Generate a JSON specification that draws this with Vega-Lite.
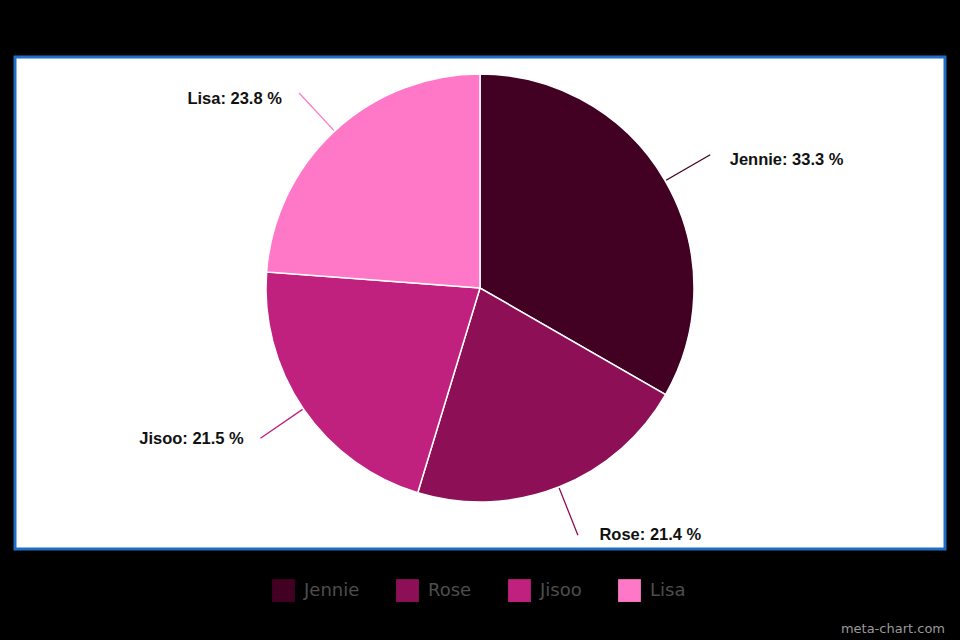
{
  "$schema": "https://vega.github.io/schema/vega-lite/v6.json",
  "width": 930,
  "height": 492,
  "autosize": {"type": "none"},
  "padding": {"left": 15, "top": 57, "right": 15, "bottom": 91},
  "background": "#000000",
  "view": {"fill": "#ffffff", "stroke": "#1c6fc3", "strokeWidth": 3},
  "title": {
    "text": "meta-chart.com",
    "orient": "bottom",
    "anchor": "end",
    "frame": "group",
    "offset": 21,
    "font": "DejaVu Sans",
    "fontSize": 13,
    "fontWeight": "normal",
    "color": "#9a9a9a"
  },
  "data": {
    "values": [
      {"name": "Jennie", "value": 33.3, "order": 1},
      {"name": "Rose", "value": 21.4, "order": 2},
      {"name": "Jisoo", "value": 21.5, "order": 3},
      {"name": "Lisa", "value": 23.8, "order": 4}
    ]
  },
  "transform": [
    {"stack": "value", "groupby": [], "sort": [{"field": "order"}], "as": ["v0", "v1"]},
    {"calculate": "(datum.v0 + datum.v1) / 2", "as": "mid"},
    {"calculate": "datum.name + ': ' + format(datum.value, '.1f') + ' %'", "as": "label"}
  ],
  "encoding": {
    "color": {
      "field": "name",
      "type": "nominal",
      "scale": {
        "domain": ["Jennie", "Rose", "Jisoo", "Lisa"],
        "range": ["#420022", "#8d1057", "#c0207e", "#ff78c8"]
      },
      "legend": {
        "title": null,
        "orient": "none",
        "legendX": 257,
        "legendY": 522,
        "direction": "horizontal",
        "columns": 4,
        "columnPadding": 36,
        "symbolType": "square",
        "symbolSize": 520,
        "symbolStrokeWidth": 0,
        "symbolOpacity": 1,
        "labelFont": "DejaVu Sans",
        "labelFontSize": 18,
        "labelColor": "#4d4d4d",
        "labelOffset": 9,
        "labelLimit": 200
      }
    }
  },
  "layer": [
    {
      "mark": {"type": "point", "opacity": 0},
      "encoding": {
        "x": {"field": "order", "type": "quantitative", "axis": null},
        "y": {"field": "order", "type": "quantitative", "axis": null},
        "color": {"value": "#ffffff"}
      }
    },
    {
      "mark": {"type": "arc", "radius": 214, "yOffset": -15, "stroke": "#ffffff", "strokeWidth": 1.5},
      "encoding": {
        "theta": {"field": "v0", "type": "quantitative", "scale": {"domain": [0, 100], "range": [0, 6.283185307]}},
        "theta2": {"field": "v1"}
      }
    },
    {
      "mark": {"type": "arc", "radius": 266, "radius2": 215, "yOffset": -15, "fill": null, "strokeWidth": 1.3, "filled": false},
      "encoding": {
        "theta": {"field": "mid", "type": "quantitative"},
        "theta2": {"field": "mid"},
        "stroke": {"field": "name", "type": "nominal", "legend": null, "scale": {
          "domain": ["Jennie", "Rose", "Jisoo", "Lisa"],
          "range": ["#420022", "#8d1057", "#c0207e", "#ff78c8"]
        }}
      }
    },
    {
      "transform": [{"filter": "datum.mid < 50"}],
      "mark": {"type": "text", "radius": 262, "yOffset": -15, "align": "left", "baseline": "middle", "dx": 23, "dy": 3, "font": "Liberation Sans", "fontSize": 16.5, "fontWeight": "bold"},
      "encoding": {
        "theta": {"field": "mid", "type": "quantitative"},
        "text": {"field": "label"},
        "color": {"value": "#111111"}
      }
    },
    {
      "transform": [{"filter": "datum.mid >= 50"}],
      "mark": {"type": "text", "radius": 262, "yOffset": -15, "align": "right", "baseline": "middle", "dx": -20, "dy": 3, "font": "Liberation Sans", "fontSize": 16.5, "fontWeight": "bold"},
      "encoding": {
        "theta": {"field": "mid", "type": "quantitative"},
        "text": {"field": "label"},
        "color": {"value": "#111111"}
      }
    }
  ]
}
